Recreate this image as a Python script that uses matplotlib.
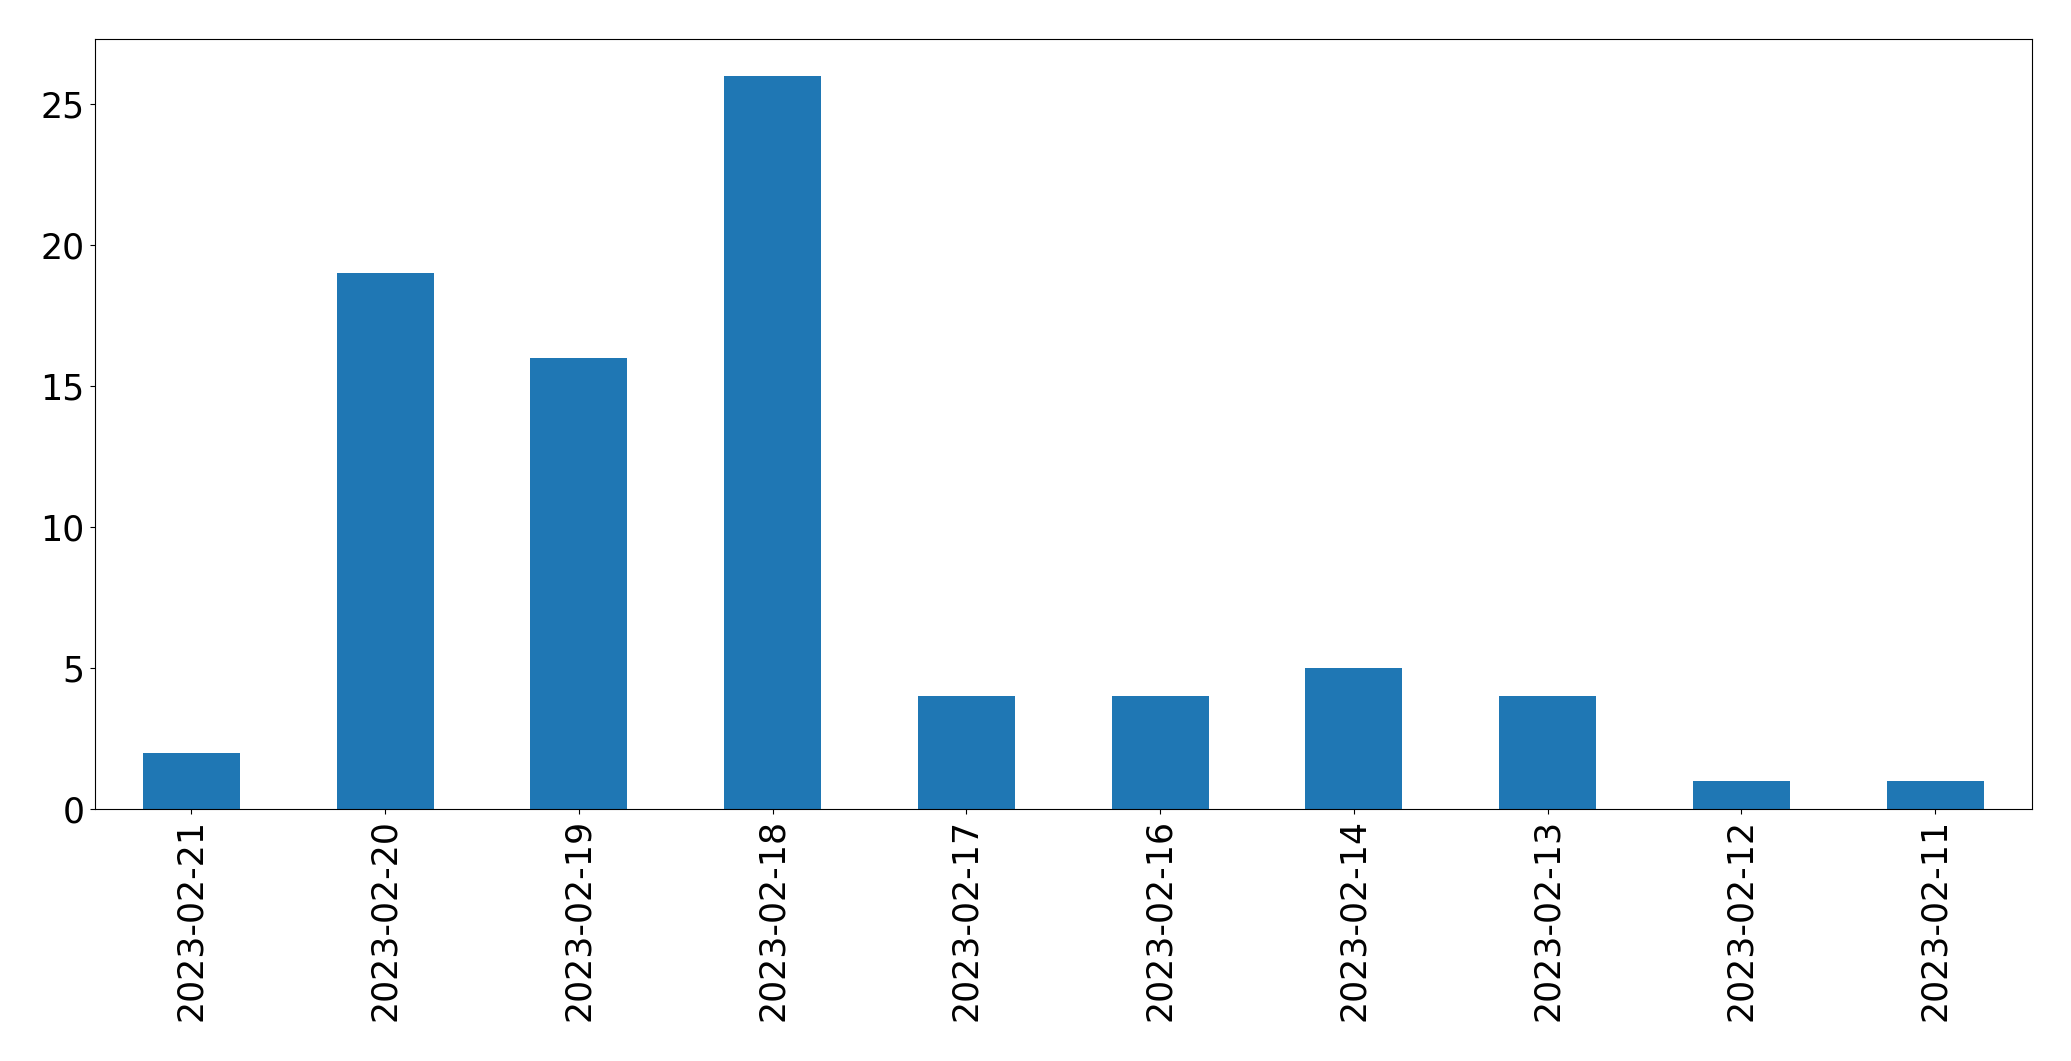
"""
столбчатая диаграмма количества записей по датам
"""
import matplotlib
matplotlib.use('Agg')
import matplotlib.pyplot as plt
import pandas as pd

# даты (в порядке убывания, как в исходнике) и количества
dates = ['2023-02-21', '2023-02-20', '2023-02-19', '2023-02-18', '2023-02-17',
         '2023-02-16', '2023-02-14', '2023-02-13', '2023-02-12', '2023-02-11']
counts = [2, 19, 16, 26, 4, 4, 5, 4, 1, 1]

s = pd.Series(counts, index=dates)

fig = plt.figure(figsize=(20.71, 10.61), dpi=100)
ax = fig.add_subplot(111)
s.plot(kind='bar', ax=ax, fontsize=25)

fig.subplots_adjust(left=94.5 / 2071, right=2032 / 2071,
                    top=1 - 39 / 1061, bottom=1 - 809 / 1061)
plt.savefig('out.png', dpi=100)
